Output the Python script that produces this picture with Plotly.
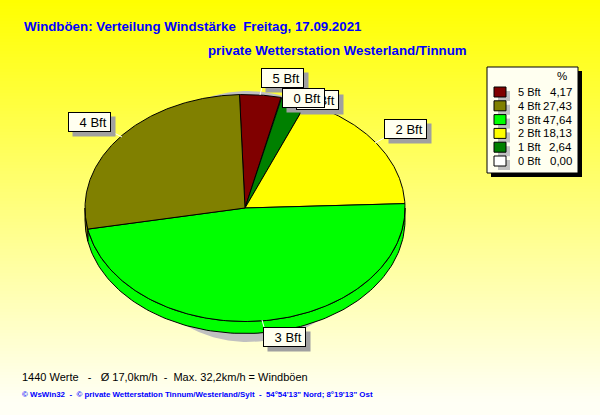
import numpy as np
import plotly.graph_objects as go

categories = ["5 Bft", "4 Bft", "3 Bft", "2 Bft", "1 Bft", "0 Bft"]
percent = [4.17, 27.43, 47.64, 18.13, 2.64, 0.00]
percent_text = ["4,17", "27,43", "47,64", "18,13", "2,64", "0,00"]
colors = ["#800000", "#808000", "#00FF00", "#FFFF00", "#008000", "#FFFFFF"]
# clockwise drawing order, beginning at the top of the pie
pie_order = ["5 Bft", "1 Bft", "0 Bft", "2 Bft", "3 Bft", "4 Bft"]

title_1 = "Windböen: Verteilung Windstärke  Freitag, 17.09.2021"
title_2 = "private Wetterstation Westerland/Tinnum"
footer_1 = "1440 Werte   -   Ø 17,0km/h  -  Max. 32,2km/h = Windböen"
footer_2 = "© WsWin32  -  © private Wetterstation Tinnum/Westerland/Sylt  -  54°54'13\" Nord; 8°19'13\" Ost"

CX, CY, RX, RY, DEPTH = 245, 208, 160, 113.5, 12
START = -2.0
FONT = "Liberation Sans"

def ell(t_deg, dy=0, rx=RX, ry=RY, dx=0):
    t = np.radians(t_deg)
    return CX + dx + rx * np.sin(t), CY - ry * np.cos(t) + dy

fig = go.Figure()

# drop shadow of the pie: only its top and bottom show past the pie
tt = np.linspace(0, 360, 361)
sx, sy = ell(tt, 8.5, rx=126, ry=125.5, dx=3)
fig.add_trace(go.Scatter(x=sx, y=sy, fill="toself", mode="lines", fillcolor="#C0C0C0",
                         line=dict(width=0), hoverinfo="skip"))

value = dict(zip(categories, percent))
color = dict(zip(categories, colors))

# side walls
a = START
for name in pie_order:
    b = a + value[name] * 3.6
    lo, hi = max(a, 90), min(b, 270)
    if hi > lo:
        t = np.linspace(lo, hi, 120)
        x1, y1 = ell(t)
        x2, y2 = ell(t[::-1], DEPTH)
        fig.add_trace(go.Scatter(x=np.r_[x1, x2, x1[0]], y=np.r_[y1, y2, y1[0]], fill="toself",
                                 mode="lines", fillcolor=color[name],
                                 line=dict(color="black", width=1), hoverinfo="skip"))
    a = b

# top faces
a = START
for name in pie_order:
    b = a + value[name] * 3.6
    if b > a:
        t = np.linspace(a, b, 200)
        x1, y1 = ell(t)
        fig.add_trace(go.Scatter(x=np.r_[CX, x1, CX], y=np.r_[CY, y1, CY], fill="toself",
                                 mode="lines", fillcolor=color[name], name=name,
                                 line=dict(color="black", width=1), hoverinfo="name"))
    a = b

shapes = []
# background gradient
TOP, BOTTOM = np.array([255, 255, 0]), np.array([255, 255, 245])
for y in range(0, 415, 3):
    f = min(1, y / 400)
    c = TOP + (BOTTOM - TOP) * f
    shapes.append(dict(type="rect", xref="x", yref="y", x0=0, x1=600, y0=y, y1=y + 3, layer="below",
                       fillcolor=f"rgb({c[0]:.0f},{c[1]:.0f},{c[2]:.0f})", line=dict(width=0)))

# legend panel
shapes.append(dict(type="rect", xref="x", yref="y", x0=491, x1=582, y0=71, y1=177, layer="above",
                   fillcolor="black", line=dict(width=0)))
shapes.append(dict(type="rect", xref="x", yref="y", x0=487, x1=578, y0=67, y1=173, layer="above",
                   fillcolor="#FFFFF0", line=dict(color="black", width=1)))

# white leader lines from labels to the pie
leaders = [(262, 87, 260, 95), (264, 327, 262, 320), (112, 132, 122, 137), (384, 138, 375, 143)]
for x0, y0, x1, y1 in leaders:
    shapes.append(dict(type="line", xref="x", yref="y", x0=x0, y0=y0, x1=x1, y1=y1, layer="above",
                       line=dict(color="white", width=1)))

annotations = []
def text(x, y, s, size=12, col="black", anchor="left", bold=False):
    annotations.append(dict(xref="x", yref="y", x=x, y=y, text=f"<b>{s}</b>" if bold else s, showarrow=False,
                            xanchor=anchor, yanchor="middle", font=dict(family=FONT, size=size, color=col)))

text(22, 26, title_1, 13.3, "#0000FF", bold=True)
text(206, 50, title_2, 13.3, "#0000FF", bold=True)
text(20, 377, footer_1.replace(" ", "\u00a0"), 11)
text(20, 394, footer_2.replace(" ", "\u00a0"), 7.9, "#0000FF", bold=True)

text(555, 76, "%", 11.5)
for i, name in enumerate(categories):
    y = 92 + i * 13.8
    shapes.append(dict(type="rect", xref="x", yref="y", x0=498, x1=510, y0=y - 1, y1=y + 9, layer="above",
                       fillcolor="#C0C0C0", line=dict(width=0)))
    shapes.append(dict(type="rect", xref="x", yref="y", x0=494, x1=506, y0=y - 5, y1=y + 5, layer="above",
                       fillcolor=colors[i], line=dict(color="black", width=1)))
    text(516, y, name, 11)
    text(574, y, percent_text[i], 11.5, anchor="right")

# pie labels: shadows first, then boxes in stacking order
label_pos = {"1 Bft": (296, 90), "2 Bft": (384, 119), "3 Bft": (263, 327),
             "4 Bft": (68, 112), "5 Bft": (261, 68), "0 Bft": (282, 88)}
for name, (x, y) in label_pos.items():
    annotations.append(dict(xref="x", yref="y", x=x + 4, y=y + 4, text=" ", showarrow=False, xanchor="left",
                            yanchor="top", width=42, height=19, bgcolor="#A0A0A0", borderpad=0,
                            font=dict(family=FONT, size=12)))
for name, (x, y) in label_pos.items():
    annotations.append(dict(xref="x", yref="y", x=x, y=y, text="\u00a0\u00a0" + name, showarrow=False, xanchor="left",
                            yanchor="top", width=41, height=18, align="center", valign="middle",
                            bgcolor="#FFFFF0", bordercolor="black", borderwidth=1, borderpad=0,
                            font=dict(family=FONT, size=13, color="black")))

fig.update_layout(
    width=600, height=415, margin=dict(l=0, r=0, t=0, b=0), showlegend=False,
    paper_bgcolor="#FFFFF0", plot_bgcolor="rgba(0,0,0,0)", shapes=shapes, annotations=annotations,
    xaxis=dict(range=[0, 600], visible=False, fixedrange=True),
    yaxis=dict(range=[415, 0], visible=False, fixedrange=True),
)
fig.write_html("out.html", config={"displayModeBar": False},
               post_script="document.body.style.margin='0';document.documentElement.style.overflow='hidden';")
